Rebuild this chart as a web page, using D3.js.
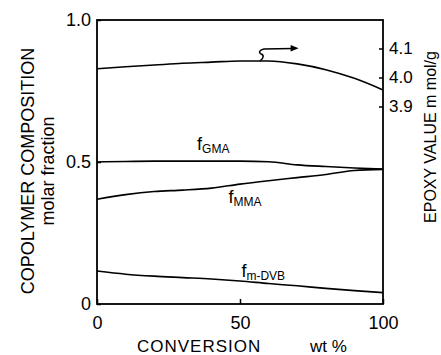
<!DOCTYPE html>
<html>
<head>
<meta charset="utf-8">
<script src="https://cdn.jsdelivr.net/npm/d3@7"></script>
<style>
  body { margin: 0; background: #fff; }
  text { font-family: "Liberation Sans", Arial, sans-serif; fill: #000; }
</style>
</head>
<body>
<svg id="chart" width="441" height="355"></svg>
<script>
var conversion = [0, 10, 20, 30, 40, 50, 60, 70, 80, 90, 100];
var fGMA  = [0.500, 0.502, 0.503, 0.503, 0.503, 0.503, 0.501, 0.490, 0.484, 0.479, 0.475];
var fMMA  = [0.369, 0.385, 0.396, 0.401, 0.408, 0.422, 0.434, 0.445, 0.456, 0.470, 0.474];
var fDVB  = [0.116, 0.105, 0.098, 0.093, 0.088, 0.081, 0.072, 0.064, 0.055, 0.047, 0.040];
var epoxy = [4.030, 4.037, 4.043, 4.049, 4.053, 4.057, 4.057, 4.047, 4.027, 3.997, 3.957];

var xTicks = [0, 50, 100];
var yTicks = [0, 0.5, 1.0];
var epoxyTicks = [3.9, 4.0, 4.1];

var svg = d3.select('#chart');
var plotLeft = 97, plotRight = 383, plotTop = 20, plotBottom = 304;

var x = d3.scaleLinear().domain([0, 100]).range([plotLeft, plotRight]);
var y = d3.scaleLinear().domain([0, 1]).range([plotBottom, plotTop]);
// epoxy axis: 0.1 mmol/g is about 29px
var y2 = d3.scaleLinear().domain([3.9, 4.1]).range([106.5, 48.5]);

// frame
svg.append('rect')
  .attr('x', plotLeft).attr('y', plotTop)
  .attr('width', plotRight - plotLeft).attr('height', plotBottom - plotTop)
  .attr('fill', 'none').attr('stroke', '#000').attr('stroke-width', 1.8);

// bottom axis
var xAxis = svg.append('g').attr('transform', 'translate(0,' + plotBottom + ')')
  .call(d3.axisBottom(x).tickValues(xTicks).tickSize(-5).tickPadding(12).tickFormat(d3.format('d')));
// left axis
var yAxis = svg.append('g').attr('transform', 'translate(' + plotLeft + ',0)')
  .call(d3.axisLeft(y).tickValues(yTicks).tickSize(-4).tickPadding(6)
    .tickFormat(function(d) { return d === 0 ? '0' : d3.format('.1f')(d); }));
// right axis
var y2Axis = svg.append('g').attr('transform', 'translate(' + plotRight + ',0)')
  .call(d3.axisRight(y2).tickValues(epoxyTicks).tickSize(-4).tickPadding(6).tickFormat(d3.format('.1f')));

[xAxis, yAxis, y2Axis].forEach(function(g) {
  g.select('.domain').remove();
  g.selectAll('line').attr('stroke', '#000').attr('stroke-width', 1.5);
  g.selectAll('text').style('font-size', '18px').attr('font-family', null);
});
y2Axis.selectAll('text').style('font-size', '17px');

// curves
var line = d3.line().curve(d3.curveMonotoneX);
function draw(vals, scale) {
  svg.append('path')
    .attr('d', line(conversion.map(function(c, i) { return [x(c), scale(vals[i])]; })))
    .attr('fill', 'none').attr('stroke', '#000').attr('stroke-width', 1.6);
}
draw(fGMA, y);
draw(fMMA, y);
draw(fDVB, y);
draw(epoxy, y2);

// arrow pointing to the right axis
var sx = x(57), sy = y2(4.057), ty = y2(4.1) + 0.5, tx = x(70.5);
svg.append('path')
  .attr('d', 'M' + sx + ',' + sy + ' C' + (sx + 4) + ',' + (sy - 3) + ' ' + (sx + 4) + ',' + (sy - 6) + ' ' + (sx + 1) + ',' + (sy - 7)
    + ' C' + (sx - 2) + ',' + (sy - 9) + ' ' + (sx) + ',' + (ty + 1) + ' ' + (sx + 4) + ',' + ty + ' L' + (tx - 6) + ',' + (ty - 0.5))
  .attr('fill', 'none').attr('stroke', '#000').attr('stroke-width', 1.5);
svg.append('path')
  .attr('d', 'M' + tx + ',' + (ty - 0.7) + ' L' + (tx - 8) + ',' + (ty - 4) + ' L' + (tx - 8) + ',' + (ty + 2.5) + 'Z')
  .attr('fill', '#000');

// curve labels
function label(xp, yp, sub) {
  var t = svg.append('text').attr('x', xp).attr('y', yp).style('font-size', '18px');
  t.append('tspan').text('f');
  t.append('tspan').attr('dy', 3).style('font-size', '12px').text(sub);
}
label(x(35), 150, 'GMA');
label(x(46), 203, 'MMA');
label(x(50.5), 277, 'm-DVB');

// axis titles
svg.append('text').attr('x', 137).attr('y', 352).style('font-size', '17px')
  .attr('letter-spacing', 1).text('CONVERSION');
svg.append('text').attr('x', 310).attr('y', 352).style('font-size', '17px').text('wt %');

svg.append('text').attr('transform', 'translate(34,171) rotate(-90)')
  .attr('text-anchor', 'middle').style('font-size', '18px')
  .text('COPOLYMER  COMPOSITION');
svg.append('text').attr('transform', 'translate(54,171) rotate(-90)')
  .attr('text-anchor', 'middle').style('font-size', '18px')
  .text('molar fraction');
svg.append('text').attr('transform', 'translate(436,137) rotate(-90)')
  .attr('text-anchor', 'middle').style('font-size', '16px')
  .text('EPOXY  VALUE  m mol/g');
</script>
</body>
</html>
